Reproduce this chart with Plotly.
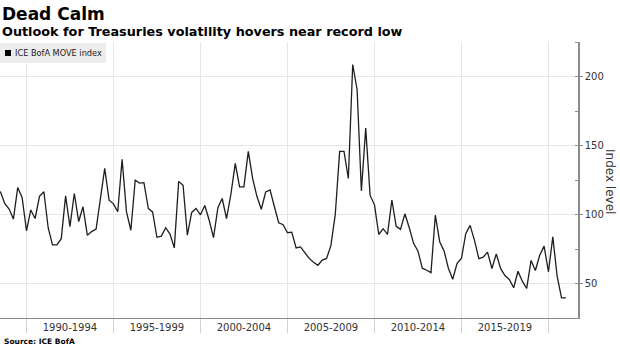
import pandas as pd
import plotly.graph_objects as go

# Quarterly ICE BofA MOVE index readings, starting Q3 1988
start_date = "1988-07-01"
move_values = [
    116.7, 108.0, 104.0, 96.7, 119.5, 112.3, 88.2, 103.3, 97.1, 113.2,
    116.5, 90.4, 78.0, 78.0, 82.5, 113.5, 91.2, 115.2, 94.9, 105.6,
    85.0, 87.6, 89.4, 111.5, 133.4, 110.4, 107.7, 102.0, 140.0, 101.9,
    88.6, 124.9, 122.8, 123.1, 104.4, 101.9, 83.5, 84.3, 90.4, 85.8,
    75.8, 124.0, 121.2, 85.0, 101.5, 104.4, 99.8, 106.5, 96.0, 83.3,
    105.0, 111.6, 97.0, 114.7, 137.1, 120.0, 120.0, 145.8, 126.0, 113.0,
    103.8, 116.3, 117.8, 105.6, 94.0, 92.6, 86.8, 87.2, 75.8, 76.5,
    72.0, 68.2, 65.4, 63.2, 67.0, 68.2, 77.4, 100.1, 145.7, 145.7,
    126.1, 208.7, 190.6, 117.1, 162.6, 113.8, 107.0, 85.5, 89.7, 85.6,
    110.5, 91.4, 89.2, 100.5, 90.4, 79.1, 73.6, 61.1, 59.6, 57.9,
    99.5, 80.3, 73.6, 61.1, 53.1, 64.7, 68.3, 86.1, 92.1, 81.2,
    68.0, 69.1, 72.7, 60.9, 71.5, 60.9, 55.8, 52.9, 46.9, 58.9,
    51.7, 46.4, 66.7, 59.4, 70.5, 77.1, 58.5, 83.8, 55.3, 39.6,
    39.6,
]
dates = pd.date_range(start=start_date, periods=len(move_values), freq="QS")

period_labels = ["1990-1994", "1995-1999", "2000-2004", "2005-2009",
                 "2010-2014", "2015-2019"]
period_centers = ["1992-07-01", "1997-07-01", "2002-07-01", "2007-07-01",
                  "2012-07-01", "2017-07-01"]
period_bounds = ["1990-01-01", "1995-01-01", "2000-01-01", "2005-01-01",
                 "2010-01-01", "2015-01-01", "2020-01-01"]
y_ticks = [50, 100, 150, 200]

title = "Dead Calm"
subtitle = "Outlook for Treasuries volatility hovers near record low"
series_name = "ICE BofA MOVE index"
source = "Source: ICE BofA"
y_title = "Index level"

FONT = "DejaVu Sans"
GRID = "#e6e6e6"
AXIS = "#8c8c8c"

fig = go.Figure()
fig.add_trace(go.Scatter(
    x=dates, y=move_values, mode="lines", name=series_name,
    line=dict(color="#1e1e1e", width=1.3), showlegend=False,
))

# plot area geometry in px (for paper conversions)
W, H = 620, 348
ml, mr, mt, mb = 0, 42, 42, 30
pw, ph = W - ml - mr, H - mt - mb


def px_x(px):
    return (px - ml) / pw


def px_y(py):
    return 1 - (py - mt) / ph


fig.update_layout(
    width=W, height=H,
    margin=dict(l=ml, r=mr, t=mt, b=mb),
    paper_bgcolor="white", plot_bgcolor="white",
    font=dict(family=FONT, color="#333333", size=10),
    xaxis=dict(
        type="date",
        range=["1988-06-24", "2021-09-12"],
        tickvals=period_centers, ticktext=period_labels,
        ticks="", showgrid=False,
        showline=True, linecolor=AXIS, linewidth=1,
        tickfont=dict(size=10, color="#333333"),
        minor=dict(tickvals=period_bounds, ticks="outside", ticklen=14,
                   tickcolor="#d0d0d0", tickwidth=1,
                   showgrid=True, gridcolor=GRID, gridwidth=1),
        zeroline=False,
    ),
    yaxis=dict(
        side="right", range=[25, 225],
        tickvals=y_ticks, ticks="outside", ticklen=3, tickcolor=AXIS,
        showgrid=True, gridcolor=GRID, gridwidth=1,
        showline=True, linecolor=AXIS, linewidth=1.5,
        tickfont=dict(size=10, color="#333333"),
        minor=dict(dtick=25, ticks="inside", ticklen=3, tickcolor=AXIS,
                   showgrid=False),
        zeroline=False,
    ),
)

# legend box
fig.add_shape(type="rect", xref="paper", yref="paper",
              x0=px_x(0), x1=px_x(106), y0=px_y(63), y1=px_y(43),
              fillcolor="#ececec", line=dict(width=0), layer="above")
fig.add_shape(type="rect", xref="paper", yref="paper",
              x0=px_x(5), x1=px_x(11), y0=px_y(56), y1=px_y(50),
              fillcolor="#000000", line=dict(width=0), layer="above")

annotations = [
    dict(text=f"<b>{title}</b>", x=px_x(0), y=px_y(14), xanchor="left",
         yanchor="middle", font=dict(size=17, color="#000000", family=FONT)),
    dict(text=f"<b>{subtitle}</b>", x=px_x(0), y=px_y(31), xanchor="left",
         yanchor="middle", font=dict(size=12.8, color="#000000", family=FONT)),
    dict(text=series_name, x=px_x(13), y=px_y(53), xanchor="left",
         yanchor="middle", font=dict(size=8.2, color="#222222", family=FONT)),
    dict(text=f"<b>{source}</b>", x=px_x(2), y=px_y(341), xanchor="left",
         yanchor="middle", font=dict(size=7.5, color="#000000", family=FONT)),
    dict(text=y_title, x=px_x(610), y=px_y(181), xanchor="center",
         yanchor="middle", textangle=90,
         font=dict(size=12, color="#333333", family=FONT)),
]
for a in annotations:
    a.update(xref="paper", yref="paper", showarrow=False)
    fig.add_annotation(**a)

fig.write_html("out.html")
